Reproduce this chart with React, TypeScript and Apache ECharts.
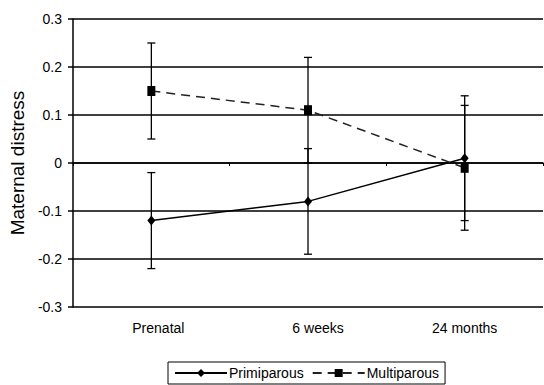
import React, { useEffect, useRef } from "react";
import * as echarts from "echarts";

const categories = ["Prenatal", "6 weeks", "24 months"];
const primiparous = [-0.12, -0.08, 0.01];
const primiparousErr = [0.1, 0.11, 0.13];
const multiparous = [0.15, 0.11, -0.01];
const multiparousErr = [0.1, 0.11, 0.13];

const FONT = "'Liberation Sans', Arial, sans-serif";
// small horizontal label nudges seen in the original rendering
const LABEL_NUDGE = [14, 20, 0];

function errData(vals: number[], errs: number[]) {
  return vals.map((v, i) => [i, v - errs[i], v + errs[i]]);
}

function errRender(params: any, api: any) {
  const i = api.value(0);
  const lo = api.coord([i, api.value(1)]);
  const hi = api.coord([i, api.value(2)]);
  const cap = 4;
  const style = { stroke: "#000", lineWidth: 1.3 };
  return {
    type: "group",
    children: [
      { type: "line", shape: { x1: hi[0], y1: hi[1], x2: lo[0], y2: lo[1] }, style },
      { type: "line", shape: { x1: hi[0] - cap, y1: hi[1], x2: hi[0] + cap, y2: hi[1] }, style },
      { type: "line", shape: { x1: lo[0] - cap, y1: lo[1], x2: lo[0] + cap, y2: lo[1] }, style },
    ],
  };
}

export default function App() {
  const ref = useRef<HTMLDivElement>(null);
  useEffect(() => {
    document.body.style.margin = "0";
    const chart = echarts.init(ref.current!, null, { renderer: "svg" });
    chart.setOption({
      animation: false,
      backgroundColor: "#fff",
      grid: { left: 68, right: 1, top: 19, bottom: 78 },
      legend: {
        left: 168,
        top: 362,
        borderColor: "#000",
        borderWidth: 1,
        padding: [4, 6],
        itemWidth: 52,
        itemHeight: 10,
        itemGap: 8,
        textStyle: { fontFamily: FONT, fontSize: 14, color: "#000", padding: [0, 0, 0, -3] },
        data: ["Primiparous", "Multiparous"],
      },
      xAxis: [
        {
          type: "category",
          data: categories,
          axisLine: { onZero: true, lineStyle: { color: "#000", width: 1.5 } },
          axisTick: { show: true, inside: false, length: 3, lineStyle: { color: "#000" } },
          axisLabel: { show: false },
          splitLine: { show: false },
        },
        {
          type: "category",
          position: "bottom",
          data: categories.map((c, i) => ({
            value: c,
            textStyle: { padding: [0, 0, 0, LABEL_NUDGE[i]] },
          })),
          axisLine: { show: false, onZero: false },
          axisTick: { show: false },
          axisLabel: { fontFamily: FONT, fontSize: 14, color: "#000", margin: 14 },
          splitLine: { show: false },
        },
      ],
      yAxis: {
        type: "value",
        min: -0.3,
        max: 0.3,
        interval: 0.1,
        name: "Maternal distress",
        nameLocation: "middle",
        nameGap: 46,
        nameTextStyle: { fontFamily: FONT, fontSize: 19, color: "#000" },
        axisLine: { show: true, lineStyle: { color: "#000", width: 1.5 } },
        axisTick: { show: true, length: 5, lineStyle: { color: "#000", width: 1.5 } },
        axisLabel: {
          fontFamily: FONT,
          fontSize: 14,
          color: "#000",
          margin: 11,
          formatter: (v: number) => String(Math.round(v * 10) / 10),
        },
        splitLine: { show: true, lineStyle: { color: "#000", width: 1.5 } },
      },
      series: [
        {
          name: "Primiparous",
          type: "line",
          data: primiparous,
          symbol: "diamond",
          symbolSize: [8, 10],
          itemStyle: { color: "#000" },
          lineStyle: { color: "#000", width: 1.5, type: "solid" },
          z: 3,
        },
        {
          name: "Multiparous",
          type: "line",
          data: multiparous,
          symbol: "rect",
          symbolSize: [8, 10],
          itemStyle: { color: "#000" },
          lineStyle: { color: "#222", width: 1.5, type: [9, 6] },
          z: 3,
        },
        {
          type: "custom",
          name: "primErr",
          data: errData(primiparous, primiparousErr),
          renderItem: errRender,
          encode: { x: 0, y: [1, 2] },
          z: 2,
        },
        {
          type: "custom",
          name: "multiErr",
          data: errData(multiparous, multiparousErr),
          renderItem: errRender,
          encode: { x: 0, y: [1, 2] },
          z: 2,
        },
      ],
    });
    return () => chart.dispose();
  }, []);
  return <div ref={ref} style={{ position: "absolute", left: 0, top: 0, width: 544, height: 385 }} />;
}
